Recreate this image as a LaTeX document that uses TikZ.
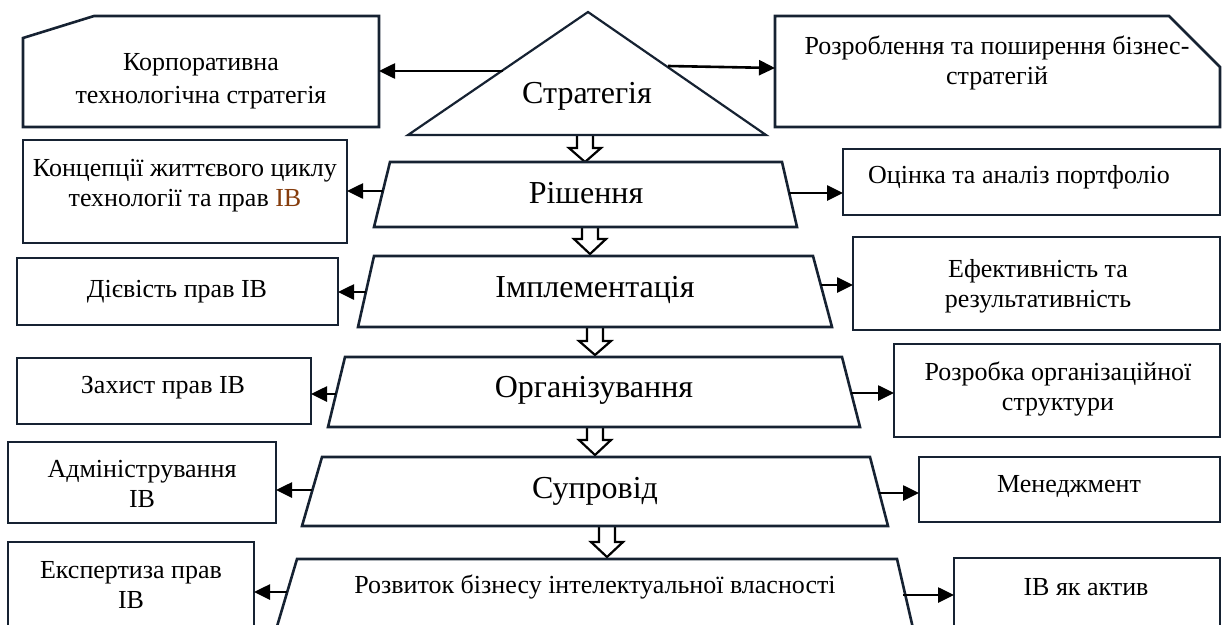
\documentclass[tikz,border=0pt]{standalone}
\usepackage{fontspec}
\setmainfont{Liberation Serif}
\usetikzlibrary{arrows.meta}
\definecolor{boxcol}{RGB}{22,34,50}
\definecolor{ivcol}{RGB}{133,60,12}
\newcommand\hollowarr[4]{%
  \draw[hollow] (#1-8,#2) -- (#1-8,#3) -- (#1-16,#3) -- (#1,#4) -- (#1+16,#3) -- (#1+8,#3) -- (#1+8,#2);}
\begin{document}
\begin{tikzpicture}[x=1pt,y=-1pt,
  box/.style={draw=boxcol, line width=2.6pt, fill=white, inner sep=0pt, outer sep=0pt},
  shp/.style={draw=boxcol, line width=2.6pt, fill=white, line join=miter},
  lbl/.style={font=\fontsize{26}{30}\selectfont, inner sep=0pt, align=center},
  big/.style={font=\fontsize{32}{38}\selectfont, inner sep=0pt, anchor=base},
  conn/.style={line width=2.6pt, -{Triangle[length=16pt,width=15pt]}},
  hollow/.style={draw=black, line width=2.2pt, fill=white, line join=miter}
]
\useasboundingbox (0,0) rectangle (1222,624);
\clip (0,0) rectangle (1222,624);

% hollow arrows between levels
\hollowarr{585}{135}{148}{162}
\hollowarr{590}{227}{239}{254}
\hollowarr{595}{327}{341}{355}
\hollowarr{595}{427}{440}{455}
\hollowarr{607}{526}{542}{557}

% central shapes
\draw[shp, line width=2.2pt] (588,12) -- (766,135) -- (408,135) -- cycle;
\draw[shp] (390,162) -- (782,162) -- (797,227) -- (374,227) -- cycle;
\draw[shp] (374,256) -- (813,256) -- (832,327) -- (358,327) -- cycle;
\draw[shp] (345,357) -- (842,357) -- (860,427) -- (328,427) -- cycle;
\draw[shp] (322,457) -- (870,457) -- (888,526) -- (302,526) -- cycle;
\draw[shp] (297,559) -- (897,559) -- (918,650) -- (270,650) -- cycle;

\node[big] (tStr) at (587,103) {Стратегія};
\node[big] (tRish) at (586,203) {Рішення};
\node[big] (tImp) at (595,297) {Імплементація};
\node[big] (tOrg) at (594,397) {Організування};
\node[big] (tSup) at (595,498) {Супровід};
\node[lbl, anchor=base] (tRozv) at (595,593) {Розвиток бізнесу інтелектуальної власності};

% snipped boxes
\draw[shp] (23,38) -- (94,16) -- (379,16) -- (379,127) -- (23,127) -- cycle;
\draw[shp] (775,16) -- (1169,16) -- (1220,67) -- (1220,127) -- (775,127) -- cycle;
\coordinate (kR) at (379,71);
\coordinate (rR) at (775,68);
\node[lbl, font=\fontsize{26}{33}\selectfont] (tKorp) at (201,80) {\strut Корпоративна\\\strut технологічна стратегія};
\node[lbl] (tRozr) at (997,63) {\strut Розроблення та поширення бізнес-\\\strut стратегій};

% rectangular boxes
\node[box, minimum width=324pt, minimum height=103pt] (bConc) at (185,191.5) {};
\node[box, minimum width=321pt, minimum height=67pt] (bDiev) at (177.5,291.5) {};
\node[box, minimum width=294pt, minimum height=66pt] (bZakh) at (164,391) {};
\node[box, minimum width=268pt, minimum height=81pt] (bAdm) at (142,482.5) {};
\node[box, minimum width=246pt, minimum height=108pt] (bExp) at (131,596) {};
\node[box, minimum width=377pt, minimum height=66pt] (bOts) at (1031.5,182) {};
\node[box, minimum width=367pt, minimum height=93pt] (bEf) at (1036.5,283.5) {};
\node[box, minimum width=326pt, minimum height=93pt] (bRozrob) at (1057,390.5) {};
\node[box, minimum width=301pt, minimum height=65pt] (bMen) at (1069.5,489.5) {};
\node[box, minimum width=266pt, minimum height=92pt] (bIV) at (1087,604) {};

% box texts
\node[lbl] (tConc) at (185,185.5) {\strut Концепції життєвого циклу\\\strut технології та прав \textcolor{ivcol}{ІВ}};
\node[lbl, anchor=base] (tDiev) at (177,297) {Дієвість прав ІВ};
\node[lbl, anchor=base] (tZakh) at (163,393) {Захист прав ІВ};
\node[lbl] (tAdm) at (142,486) {\strut Адміністрування\\\strut ІВ};
\node[lbl] (tExp) at (131,587) {\strut Експертиза прав\\\strut ІВ};
\node[lbl, anchor=base] (tOts) at (1019,183) {Оцінка та аналіз портфоліо};
\node[lbl] (tEf) at (1038,286) {\strut Ефективність та\\\strut результативність};
\node[lbl] (tRozrob) at (1058,389) {\strut Розробка організаційної\\\strut структури};
\node[lbl, anchor=base] (tMen) at (1069,492) {Менеджмент};
\node[lbl, anchor=base] (tIV) at (1086,595) {ІВ як актив};

% connectors
\coordinate (sK) at (503,71);
\coordinate (sR) at (668,66);
\coordinate (s1) at (383,191);
\coordinate (s2) at (366,292);
\coordinate (s3) at (336,394);
\coordinate (s4) at (312,490);
\coordinate (s5) at (287,592);
\coordinate (e1) at (789,193);
\coordinate (e2) at (821,285);
\coordinate (e3) at (851,393);
\coordinate (e4) at (879,493);
\coordinate (e5) at (903,595);
\draw[conn] (sK) -- (kR);
\draw[conn] (sR) -- (rR);
\draw[conn] (s1) -- (s1 -| bConc.east);
\draw[conn] (s2) -- (s2 -| bDiev.east);
\draw[conn] (s3) -- (s3 -| bZakh.east);
\draw[conn] (s4) -- (s4 -| bAdm.east);
\draw[conn] (s5) -- (s5 -| bExp.east);
\draw[conn] (e1) -- (e1 -| bOts.west);
\draw[conn] (e2) -- (e2 -| bEf.west);
\draw[conn] (e3) -- (e3 -| bRozrob.west);
\draw[conn] (e4) -- (e4 -| bMen.west);
\draw[conn] (e5) -- (e5 -| bIV.west);
\end{tikzpicture}
\end{document}
